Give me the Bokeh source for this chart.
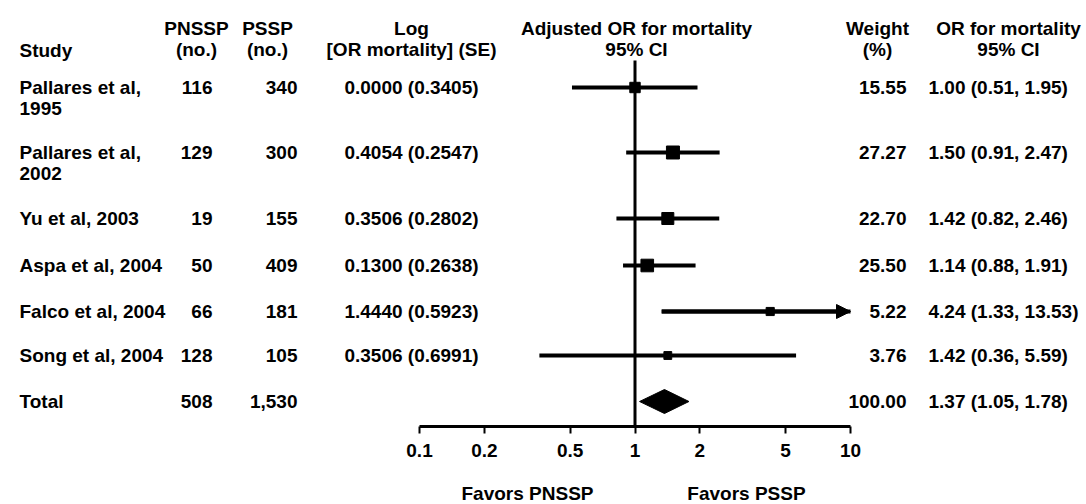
import numpy as np
from bokeh.plotting import figure
from bokeh.layouts import column
from bokeh.models import (Range1d, LogScale, LogAxis, FixedTicker, CustomJSTickFormatter,
                          ColumnDataSource, Arrow, NormalHead)
from bokeh.core.properties import value
from bokeh.embed import file_html
from bokeh.resources import INLINE

# ---------------- data ----------------
studies = ["Pallares et al,\n1995", "Pallares et al,\n2002", "Yu et al, 2003",
           "Aspa et al, 2004", "Falco et al, 2004", "Song et al, 2004"]
pnssp_n = ["116", "129", "19", "50", "66", "128"]
pssp_n = ["340", "300", "155", "409", "181", "105"]
log_or = [0.0000, 0.4054, 0.3506, 0.1300, 1.4440, 0.3506]
log_se = [0.3405, 0.2547, 0.2802, 0.2638, 0.5923, 0.6991]
weight = [15.55, 27.27, 22.70, 25.50, 5.22, 3.76]
or_est = [1.00, 1.50, 1.42, 1.14, 4.24, 1.42]
ci_low = [0.51, 0.91, 0.82, 0.88, 1.33, 0.36]
ci_high = [1.95, 2.47, 2.46, 1.91, 13.53, 5.59]

total_label = "Total"
total_pnssp = "508"
total_pssp = "1,530"
total_weight = 100.00
total_or = 1.37
total_low = 1.05
total_high = 1.78

axis_ticks = [0.1, 0.2, 0.5, 1, 2, 5, 10]
headers = ["Study", "PNSSP\n(no.)", "PSSP\n(no.)", "Log\n[OR mortality] (SE)",
           "Adjusted OR for mortality\n95% CI", "Weight\n(%)", "OR for mortality\n95% CI"]
favors = ["Favors PNSSP", "Favors PSSP"]

# ---------------- layout (pixel-like units) ----------------
W, H = 1086, 504
LEFT, RIGHT = 0, 1086
TOP, AXIS_Y = 0, 426
AXIS_PANEL = 40
X_ONE = 634.5
PX_DECADE = 215.5
ROW_Y = [87, 152, 218, 265, 311, 355]
TOTAL_Y = 401
HEAD_Y = 38
STUDY_HEAD_Y = 50
LINE_PX = 21.2
FS = "19px"
FONT = value("Liberation Sans")

COL_STUDY = 19
COL_PNSSP = 212
COL_PSSP = 297
COL_LOG = 411
COL_FOREST = 636
COL_WEIGHT = 906
COL_OR = 928
HEAD_X = [COL_STUDY, 196, 267, COL_LOG, COL_FOREST, 877, 1008]
HEAD_ALIGN = ["left", "center", "center", "center", "center", "center", "center"]
FAVORS_X = [527, 746]
FAVORS_Y = 493

log_start = 10 ** ((LEFT - X_ONE) / PX_DECADE)
log_end = 10 ** ((RIGHT - X_ONE) / PX_DECADE)

H_TOP = AXIS_Y - TOP + AXIS_PANEL
p = figure(width=W, height=H_TOP, x_range=Range1d(LEFT, RIGHT), y_range=Range1d(AXIS_Y, TOP),
           x_axis_type=None, y_axis_type=None, toolbar_location=None, output_backend="svg",
           min_border_left=0, min_border_right=0, min_border_top=0,
           min_border_bottom=AXIS_PANEL)
p.outline_line_color = None
p.background_fill_color = "white"
p.border_fill_color = "white"
p.extra_x_ranges = {"or": Range1d(log_start, log_end)}
p.extra_x_scales = {"or": LogScale()}

txt = dict(text_font=FONT, text_font_style="bold", text_font_size=FS, text_color="black",
           text_baseline="middle", text_line_height=1.0)

# headers
for hx, ht, ha in zip(HEAD_X, headers, HEAD_ALIGN):
    hy = STUDY_HEAD_Y if "\n" not in ht else HEAD_Y
    p.text(x=[hx], y=[hy], text=[ht], text_align=ha, **txt)

# study names (first line on the row)
name_y = [y + s.count("\n") * LINE_PX / 2 for s, y in zip(studies, ROW_Y)]
p.text(x=COL_STUDY, y=name_y + [TOTAL_Y], text=studies + [total_label], text_align="left", **txt)

all_y = ROW_Y + [TOTAL_Y]
p.text(x=COL_PNSSP, y=all_y, text=pnssp_n + [total_pnssp], text_align="right", **txt)
p.text(x=COL_PSSP, y=all_y, text=pssp_n + [total_pssp], text_align="right", **txt)
p.text(x=COL_LOG, y=ROW_Y, text=[f"{a:.4f} ({b:.4f})" for a, b in zip(log_or, log_se)],
       text_align="center", **txt)
p.text(x=COL_WEIGHT, y=all_y, text=[f"{w:.2f}" for w in weight + [total_weight]],
       text_align="right", **txt)
or_txt = [f"{e:.2f} ({l:.2f}, {h:.2f})" for e, l, h in zip(or_est, ci_low, ci_high)]
or_txt.append(f"{total_or:.2f} ({total_low:.2f}, {total_high:.2f})")
p.text(x=COL_OR, y=all_y, text=or_txt, text_align="left", **txt)

# forest plot
axis_max = axis_ticks[-1]
src = ColumnDataSource(dict(
    y=ROW_Y, est=or_est, lo=ci_low, hi=list(np.minimum(ci_high, axis_max)),
    size=[7 + 0.22 * w for w in weight]))

p.segment(x0=1, x1=1, y0=60, y1=AXIS_Y, x_range_name="or", line_color="black", line_width=3)
p.segment(x0="lo", x1="hi", y0="y", y1="y", source=src, x_range_name="or",
          line_color="black", line_width=4)
p.scatter(x="est", y="y", size="size", marker="square", source=src, x_range_name="or",
          fill_color="black", line_color="black")
for lo, hi, y in zip(ci_low, ci_high, ROW_Y):
    if hi > axis_max:
        p.add_layout(Arrow(end=NormalHead(size=14, fill_color="black", line_color="black"),
                           x_start=lo, x_end=axis_max, y_start=y, y_end=y,
                           line_width=4, line_color="black", x_range_name="or"))

DH = 12
p.patch(x=[total_low, total_or, total_high, total_or],
        y=[TOTAL_Y, TOTAL_Y - DH, TOTAL_Y, TOTAL_Y + DH],
        x_range_name="or", fill_color="black", line_color="black")

ax = LogAxis(x_range_name="or", ticker=FixedTicker(ticks=axis_ticks),
             formatter=CustomJSTickFormatter(code="return tick.toString();"),
             bounds=(axis_ticks[0], axis_ticks[-1]))
ax.axis_line_width = 3
ax.axis_line_color = "black"
ax.major_tick_line_width = 2
ax.major_tick_line_color = "black"
ax.major_tick_in = 0
ax.major_tick_out = 7
ax.minor_tick_line_color = None
ax.major_label_text_font = "Liberation Sans"
ax.major_label_text_font_style = "bold"
ax.major_label_text_font_size = FS
ax.major_label_text_color = "black"
ax.major_label_standoff = 10
p.add_layout(ax, "below")

# bottom strip with the "Favors" captions
H_BOT = H - H_TOP
p2 = figure(width=W, height=H_BOT, x_range=Range1d(LEFT, RIGHT), y_range=Range1d(H, H_TOP),
            x_axis_type=None, y_axis_type=None, toolbar_location=None, output_backend="svg",
            min_border=0)
p2.outline_line_color = None
p2.background_fill_color = "white"
p2.border_fill_color = "white"
p2.text(x=FAVORS_X, y=[FAVORS_Y] * len(favors), text=favors, text_align="center", **txt)

layout = column(p, p2, spacing=0)
open("out.html", "w").write(file_html(layout, INLINE))
